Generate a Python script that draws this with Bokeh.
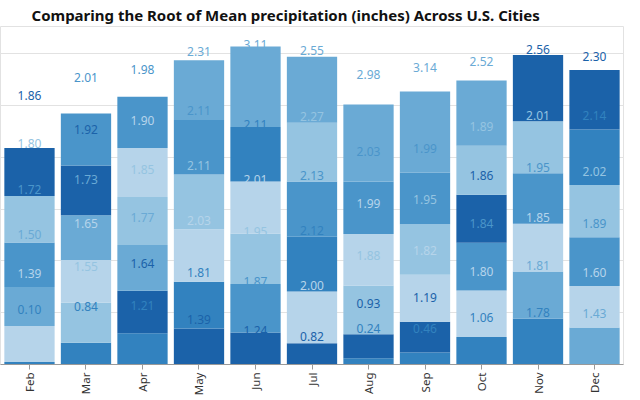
import math
import numpy as np
from bokeh.plotting import figure
from bokeh.models import ColumnDataSource, Range1d, Grid, SingleIntervalTicker, FixedTicker
from bokeh.core.properties import value
from bokeh.embed import file_html
from bokeh.resources import INLINE

# ---- data (root of mean precipitation) ----
months = ["Feb", "Mar", "Apr", "May", "Jun", "Jul", "Aug", "Sep", "Oct", "Nov", "Dec"]
month_index = [1, 2, 3, 4, 5, 6, 7, 8, 9, 10, 11]

series_names = ["City 1", "City 2", "City 5", "City 3", "City 4", "City 6"]
series_colors = ["#1b62a9", "#3282bf", "#95c4e1", "#4a95ca", "#6aaad5", "#b6d4ea"]

city_1 = [1.86, 1.92, 1.64, 1.39, 1.24, 0.82, 0.93, 1.19, 1.86, 2.56, 2.30]
city_2 = [0.10, 0.84, 1.21, 1.81, 2.11, 2.12, 0.24, 0.46, 1.06, 1.78, 2.14]
city_5 = [1.80, 1.55, 1.85, 2.11, 1.95, 2.27, 1.88, 1.95, 1.89, 2.01, 2.02]
city_3 = [1.72, 2.01, 1.98, 2.11, 1.87, 2.13, 2.03, 1.99, 1.84, 1.95, 1.89]
city_4 = [1.50, 1.73, 1.77, 2.31, 3.11, 2.55, 2.98, 3.14, 2.52, 1.81, 1.43]
city_6 = [1.39, 1.65, 1.90, 2.03, 2.01, 2.00, 1.99, 1.82, 1.80, 1.85, 1.60]

# vertical displacement of the value labels relative to the stacked tops
label_shift = [2.04, 1.39, 1.06, 0.35, 0.09, 0.25, 1.17, 0.94, 0.75, 0.23, 0.53]

title_text = "Comparing the Root of Mean precipitation (inches) Across U.S. Cities"

# ---- build stacked (sorted ascending per month) segments ----
all_series = [city_1, city_2, city_5, city_3, city_4, city_6]
bx, bb, bt, bc = [], [], [], []
lx, ly, lt, lc = [], [], [], []
for mi, xpos in enumerate(month_index):
    vals = np.array([s[mi] for s in all_series])
    order = np.argsort(vals, kind="stable")
    base = 0.0
    for k in order:
        v = float(vals[k])
        bx.append(xpos); bb.append(base); bt.append(base + v); bc.append(series_colors[k])
        lx.append(xpos); ly.append(base + v + label_shift[mi])
        lt.append(f"{v:.2f}"); lc.append(series_colors[k])
        base += v

bars = ColumnDataSource(dict(x=bx, bottom=bb, top=bt, color=bc))
labels = ColumnDataSource(dict(x=lx, y=ly, text=lt, color=lc))

p = figure(frame_width=623, frame_height=338,
           x_range=Range1d(0.487, 11.513), y_range=Range1d(0, 13.06),
           y_axis_location=None, toolbar_location=None, output_backend="svg",
           min_border_left=0, min_border_right=9, min_border_top=25, min_border_bottom=33)

p.add_layout(Grid(dimension=1, ticker=SingleIntervalTicker(interval=2),
                  grid_line_color="#e2e2e2", grid_line_width=1))
p.xgrid.grid_line_color = None
p.outline_line_color = "#e2e2e2"

p.vbar(x="x", width=0.89, bottom="bottom", top="top", fill_color="color",
       line_color=None, source=bars)
p.text(x="x", y="y", text="text", text_color="color", source=labels,
       text_font=value("Noto Sans"), text_font_size="12px",
       text_align="center", text_baseline="middle")

ax = p.xaxis[0]
ax.axis_label = None
ax.ticker = FixedTicker(ticks=month_index)
ax.major_label_overrides = {i: m for i, m in zip(month_index, months)}
ax.major_label_orientation = math.pi / 2
ax.major_tick_out = 5
ax.major_tick_in = 0
ax.minor_tick_line_color = None
ax.axis_line_color = "#999999"
ax.major_tick_line_color = "#999999"
ax.major_label_text_color = "#333333"
ax.major_label_text_font = "Noto Sans"
ax.major_label_text_font_size = "11.5px"
ax.major_label_standoff = 3

p.title.text = title_text
p.title.text_font = "Noto Sans"
p.title.text_font_size = "15px"
p.title.text_font_style = "bold"
p.title.text_color = "#111111"
p.title.align = "left"
p.title.offset = 31
p.title.standoff = 4

open("out.html", "w").write(file_html(p, INLINE))
